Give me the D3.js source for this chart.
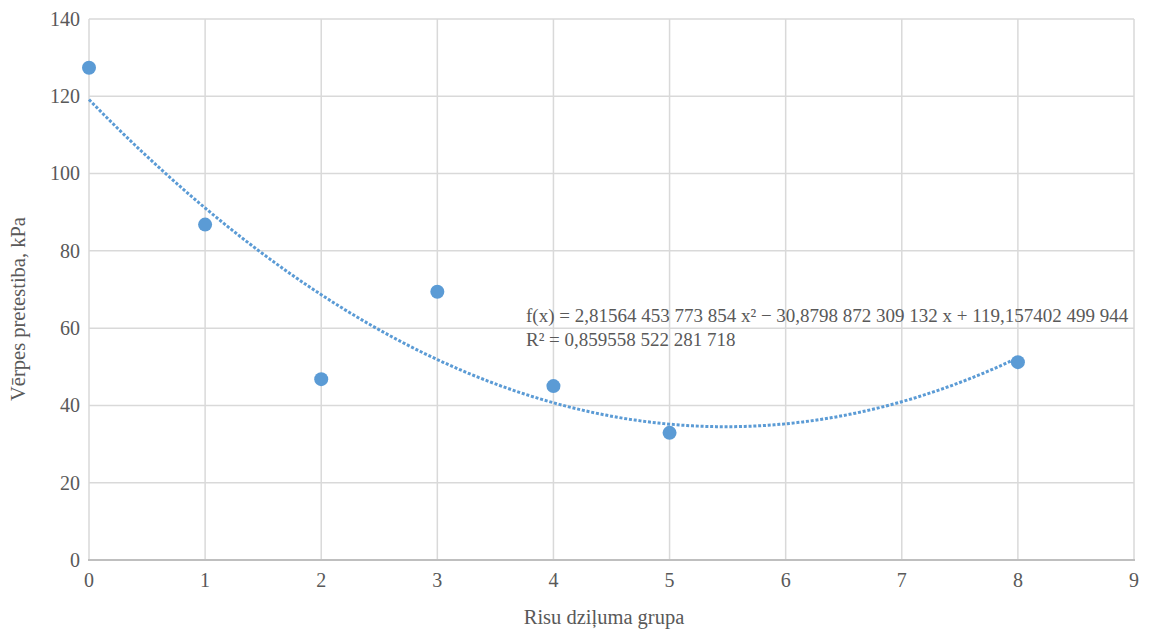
<!DOCTYPE html>
<html>
<head>
<meta charset="utf-8">
<script src="https://cdn.jsdelivr.net/npm/d3@7"></script>
</head>
<body style="margin:0">
<svg id="fig" width="1156" height="634" style="display:block"></svg>
<script>
// Measured groups (depth group vs. shear resistance, kPa)
const groups = [0, 1, 2, 3, 4, 5, 8];
const resistance = [127.4, 86.8, 46.8, 69.4, 45.0, 32.9, 51.2];

// Second-order polynomial trend: a·x² + b·x + c
const trendCoef = [2.81564453773854, -30.8798872309132, 119.157402499944];
const rSquared = 0.859558522281718;
const trendLabel = "f(x) = 2,81564 453 773 854 x² − 30,8798 872 309 132 x + 119,157402 499 944";
const rLabel = "R² = 0,859558 522 281 718";

const xTicks = [0, 1, 2, 3, 4, 5, 6, 7, 8, 9];
const yTicks = [0, 20, 40, 60, 80, 100, 120, 140];
const xTitle = "Risu dziļuma grupa";
const yTitle = "Vērpes pretestiba, kPa";

const INK = "#595959";

const svg = d3.select("#fig");
const plot = { left: 89, right: 1134, top: 19, bottom: 560 };

const x = d3.scaleLinear().domain([0, 9]).range([plot.left, plot.right]);
const y = d3.scaleLinear().domain([0, 140]).range([plot.bottom, plot.top]);

function label(sel, size) {
  return sel
    .attr("style", `font-family: "Liberation Serif"; fill: ${INK}`)
    .attr("font-size", size);
}

// Grid
const grid = svg.append("g");
grid.selectAll("line.h").data(yTicks.filter(d => d !== 0)).join("line")
  .attr("x1", plot.left).attr("x2", plot.right)
  .attr("y1", d => y(d)).attr("y2", d => y(d))
  .attr("stroke", "#d9d9d9").attr("stroke-width", 1.5);
grid.selectAll("line.v").data(xTicks).join("line")
  .attr("x1", d => x(d)).attr("x2", d => x(d))
  .attr("y1", plot.top).attr("y2", plot.bottom)
  .attr("stroke", "#d9d9d9").attr("stroke-width", 1.5);

// Horizontal axis line
svg.append("line")
  .attr("x1", plot.left - 1).attr("x2", plot.right + 1)
  .attr("y1", y(0)).attr("y2", y(0))
  .attr("stroke", "#bfbfbf").attr("stroke-width", 2);

// Tick labels
svg.append("g").selectAll("text").data(yTicks).join("text")
  .attr("x", 80).attr("y", d => y(d))
  .attr("dy", "0.34em")
  .attr("text-anchor", "end")
  .call(label, 20)
  .text(d => d);

svg.append("g").selectAll("text").data(xTicks).join("text")
  .attr("x", d => x(d)).attr("y", 587)
  .attr("text-anchor", "middle")
  .call(label, 20)
  .text(d => d);

// Axis titles
svg.append("text")
  .attr("x", 604).attr("y", 624)
  .attr("text-anchor", "middle")
  .call(label, 20.5)
  .text(xTitle);

svg.append("text")
  .attr("transform", "translate(25,309) rotate(-90)")
  .attr("text-anchor", "middle")
  .call(label, 20.5)
  .text(yTitle);

// Trend curve sampled from the polynomial
const poly = v => trendCoef[0] * v * v + trendCoef[1] * v + trendCoef[2];
const xs = d3.range(0, 8.0001, 0.05);
svg.append("path")
  .datum(xs)
  .attr("fill", "none")
  .attr("stroke", "#5b9bd5")
  .attr("stroke-width", 3)
  .attr("stroke-dasharray", "3 1.8")
  .attr("d", d3.line().x(d => x(d)).y(d => y(poly(d))));

// Data points
svg.append("g").selectAll("circle").data(groups).join("circle")
  .attr("cx", d => x(d))
  .attr("cy", (d, i) => y(resistance[i]))
  .attr("r", 7)
  .attr("fill", "#5b9bd5");

// Trend equation and coefficient of determination
const eq = svg.append("g");
[trendLabel, rLabel].forEach((t, i) => {
  eq.append("text")
    .attr("x", 526).attr("y", 322 + i * 24)
    .call(label, 19)
    .text(t);
});
</script>
</body>
</html>
